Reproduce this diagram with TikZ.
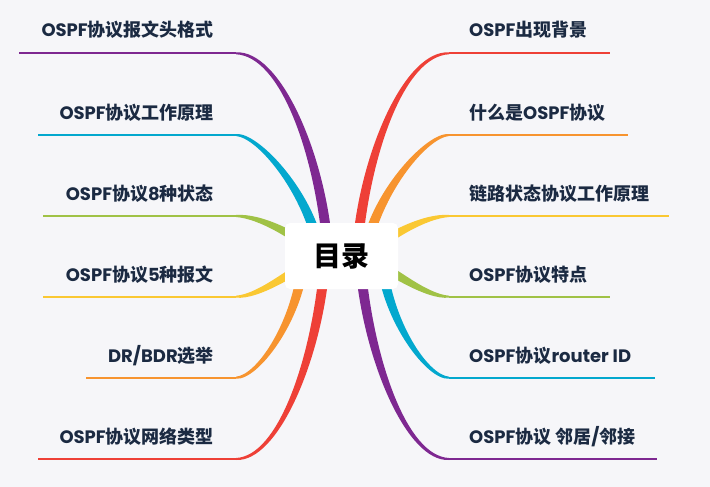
\documentclass[tikz,border=0pt]{standalone}
\usepackage{fontspec}
\setmainfont{Noto Sans CJK SC}
\newfontfamily\lat{Poppins}
\usetikzlibrary{calc,backgrounds}
\definecolor{bg}{HTML}{F6F6F9}
\definecolor{cpurple}{HTML}{7E2891}
\definecolor{ccyan}{HTML}{03A8CE}
\definecolor{cgreen}{HTML}{A0C246}
\definecolor{cyellow}{HTML}{FAC833}
\definecolor{corange}{HTML}{F7942F}
\definecolor{cred}{HTML}{EE4037}
\definecolor{txt}{HTML}{1B2A42}
\newcommand\la[1]{{\lat #1}}
% 1 color, 2 E, 3 c1, 4 c2, 5 S, 6 root offset, 7 c1 offset, 8 far end of underline
\newcommand\branch[8]{%
  \fill[#1] ($(#2)+(0,1)$) .. controls ($(#3)+(0,#7)$) and ($(#4)+(#6)$) .. ($(#5)+(#6)$)
     -- ($(#5)-(#6)$) .. controls ($(#4)-(#6)$) and ($(#3)-(0,#7)$) .. ($(#2)-(0,1)$) -- cycle;
  \draw[#1,line width=2pt] (#2) -- (#8);}
\tikzset{
  lbl/.style={inner sep=0pt, text=txt, font=\bfseries\fontsize{18}{21}\selectfont},
  rootbox/.style={fill=white, rounded corners=5pt, minimum width=113pt, minimum height=66pt,
     inner sep=0pt, text=black, font=\bfseries\fontsize{28}{31}\selectfont}
}
\begin{document}
\begin{tikzpicture}[x=1pt,y=-1pt]
\useasboundingbox (0,0) rectangle (710,487);
\node[rootbox] (root) at (341.5,256) {目录};
% left labels
\node[lbl, anchor=base east] (l1) at (214,37) {\la{OSPF}协议报文头格式};
\node[lbl, anchor=base east] (l2) at (214,119) {\la{OSPF}协议工作原理};
\node[lbl, anchor=base east] (l3) at (214,200) {\la{OSPF}协议\la{8}种状态};
\node[lbl, anchor=base east] (l4) at (214,281) {\la{OSPF}协议\la{5}种报文};
\node[lbl, anchor=base east] (l5) at (214,362) {\la{DR/BDR}选举};
\node[lbl, anchor=base east] (l6) at (214,443) {\la{OSPF}协议网络类型};
% right labels
\node[lbl, anchor=base west] (r1) at (469,37) {\la{OSPF}出现背景};
\node[lbl, anchor=base west] (r2) at (469,119) {什么是\la{OSPF}协议};
\node[lbl, anchor=base west] (r3) at (469,200) {链路状态协议工作原理};
\node[lbl, anchor=base west] (r4) at (469,281) {\la{OSPF}协议特点};
\node[lbl, anchor=base west] (r5) at (469,362) {\la{OSPF}协议\la{router ID}};
\node[lbl, anchor=base west] (r6) at (469,443) {\la{OSPF}协议\la{ }邻居\la{/}邻接};
\begin{pgfonlayer}{background}
\fill[bg] (0,0) rectangle (710,487);
% left side
\branch{cpurple}{236,53.3}{280,53.3}{318,150}{327,240}{-5,0.5}{3}{19,53.3}
\branch{ccyan}{236,135}{258,135}{306,190}{318,245}{-4.9,1.1}{3}{38,135}
\branch{cgreen}{236,216}{260,216}{295,235}{320,255}{-3.1,3.9}{3}{43,216}
\branch{cyellow}{236,296.7}{260,296.7}{293,270}{318,258}{2.2,4.5}{3}{43,296.7}
\branch{corange}{236,377.7}{258,377.7}{298,320}{303,262}{5,0.43}{3}{86,377.7}
\branch{cred}{236,459}{278,459}{315,362}{324,272}{5,0.5}{3}{38,459}
% right side
\branch{cred}{449,53.3}{405,53.3}{367,150}{358,240}{5,0.5}{3}{610,53.3}
\branch{corange}{449,135}{427,135}{379,190}{367,245}{4.9,1.1}{3}{628,135}
\branch{cyellow}{449,216}{425,216}{390,235}{365,255}{3.1,3.9}{3}{669,216}
\branch{cgreen}{449,296.7}{425,296.7}{392,270}{367,258}{-2.2,4.5}{3}{610,296.7}
\branch{ccyan}{449,377.7}{427,377.7}{387,320}{382,262}{-5,0.43}{3}{655,377.7}
\branch{cpurple}{449,459}{407,459}{370,362}{361,272}{-5,0.5}{3}{657,459}
\end{pgfonlayer}
\end{tikzpicture}
\end{document}
